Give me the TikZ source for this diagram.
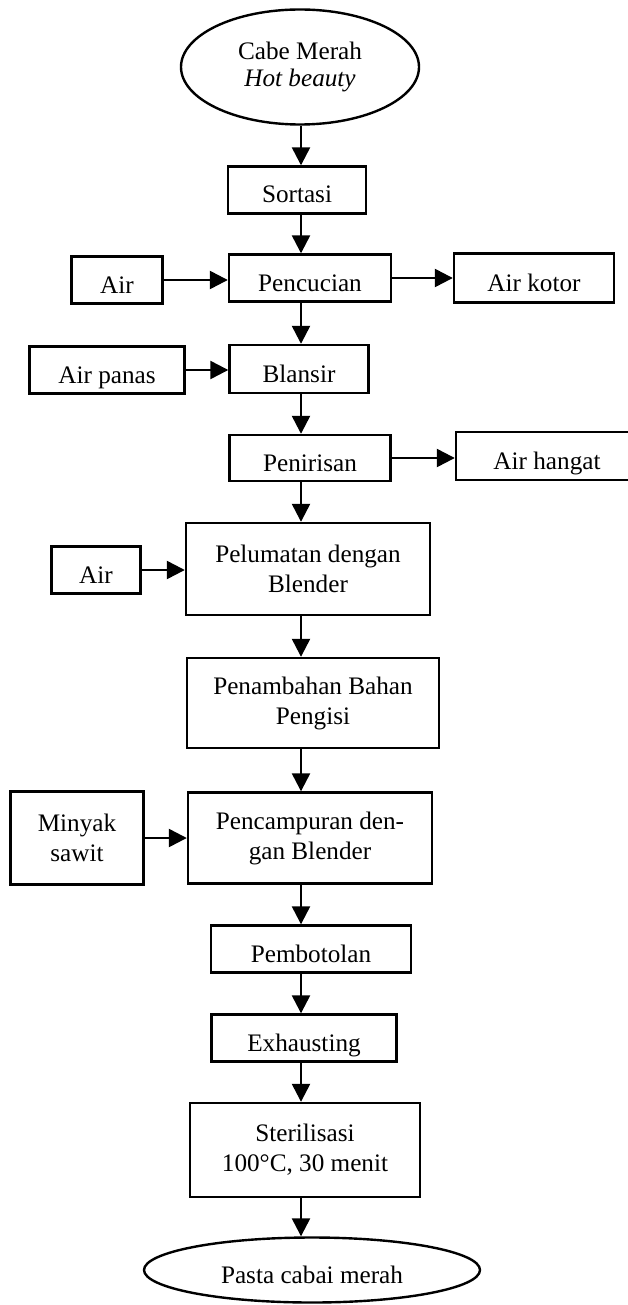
\documentclass[tikz,border=0pt]{standalone}
\usepackage{fontspec}
\setmainfont{Liberation Serif}
\usetikzlibrary{shapes.geometric,arrows.meta}

\tikzset{
	proses/.style={draw, rectangle, line width=1.2pt, inner sep=0pt, align=center,
		font=\fontsize{12.6}{15}\selectfont},
	satu/.style={text height=13pt, text depth=0pt},
	ujung/.style={draw, ellipse, line width=1.2pt, inner sep=0pt, align=center,
		font=\fontsize{12.6}{13.5}\selectfont},
	alir/.style={-{Triangle[width=9pt,length=9pt]}, line width=1.2pt}
}

\begin{document}
\begin{tikzpicture}[x=0.5pt,y=-0.5pt]
		\useasboundingbox (0,0) rectangle (627,1305);
		\coordinate (spine) at (301,0);
		
		% alur utama
		\node[ujung, minimum width=119pt, minimum height=57.5pt] (cabe) at (300,67) {Cabe Merah\\\textit{Hot beauty}};
		\node[proses, satu, minimum width=69pt, minimum height=23.5pt] (sortasi) at (297,190) {Sortasi};
		\node[proses, satu, minimum width=81pt, minimum height=23.5pt] (pencucian) at (310,278) {Pencucian};
		\node[proses, satu, minimum width=69.5pt, minimum height=24pt] (blansir) at (299,369) {Blansir};
		\node[proses, satu, minimum width=80.5pt, minimum height=23pt] (penirisan) at (310,458) {Penirisan};
		\node[proses, minimum width=122pt, minimum height=46pt] (pelumatan) at (308,569) {Pelumatan dengan\\Blender};
		\node[proses, minimum width=126pt, minimum height=45pt] (penambahan) at (313,703) {Penambahan Bahan\\Pengisi};
		\node[proses, minimum width=122pt, minimum height=45.5pt] (pencampuran) at (310,838) {Pencampuran den-\\gan Blender};
		\node[proses, satu, minimum width=100pt, minimum height=23.5pt] (pembotolan) at (311,949) {Pembotolan};
		\node[proses, satu, minimum width=92.5pt, minimum height=23.5pt] (exhausting) at (304,1038) {Exhausting};
		\node[proses, minimum width=115pt, minimum height=47pt] (sterilisasi) at (305,1150) {Sterilisasi\\100°C, 30 menit};
		\node[ujung, satu, minimum width=168pt, minimum height=32.5pt] (pasta) at (312,1270) {Pasta cabai merah};
		
		% bahan masuk dan keluar
		\node[proses, satu, minimum width=45.5pt, minimum height=23.5pt] (air1) at (117,280) {Air};
		\node[proses, satu, minimum width=80pt, minimum height=24.5pt] (airkotor) at (534,278) {Air kotor};
		\node[proses, satu, minimum width=77.5pt, minimum height=23.5pt] (airpanas) at (107,370) {Air panas};
		\node[proses, satu, minimum width=91pt, minimum height=24pt] (airhangat) at (547,456) {Air hangat};
		\node[proses, satu, minimum width=44.5pt, minimum height=23.5pt] (air2) at (96,570) {Air};
		\node[proses, minimum width=66.5pt, minimum height=46.5pt] (minyak) at (77,838) {Minyak\\sawit};
		
		% panah ke bawah
		\draw[alir] (cabe.south -| spine) -- (sortasi.north -| spine);
		\draw[alir] (sortasi.south -| spine) -- (pencucian.north -| spine);
		\draw[alir] (pencucian.south -| spine) -- (blansir.north -| spine);
		\draw[alir] (blansir.south -| spine) -- (penirisan.north -| spine);
		\draw[alir] (penirisan.south -| spine) -- (pelumatan.north -| spine);
		\draw[alir] (pelumatan.south -| spine) -- (penambahan.north -| spine);
		\draw[alir] (penambahan.south -| spine) -- (pencampuran.north -| spine);
		\draw[alir] (pencampuran.south -| spine) -- (pembotolan.north -| spine);
		\draw[alir] (pembotolan.south -| spine) -- (exhausting.north -| spine);
		\draw[alir] (exhausting.south -| spine) -- (sterilisasi.north -| spine);
		\draw[alir] (sterilisasi.south -| spine) -- (pasta.north -| spine);
		
		% panah samping
		\draw[alir] (air1.east) -- (air1.east -| pencucian.west);
		\draw[alir] (pencucian.east) -- (pencucian.east -| airkotor.west);
		\draw[alir] (airpanas.east) -- (airpanas.east -| blansir.west);
		\draw[alir] (penirisan.east) -- (penirisan.east -| airhangat.west);
		\draw[alir] (air2.east) -- (air2.east -| pelumatan.west);
		\draw[alir] (minyak.east) -- (minyak.east -| pencampuran.west);
\end{tikzpicture}
\end{document}
